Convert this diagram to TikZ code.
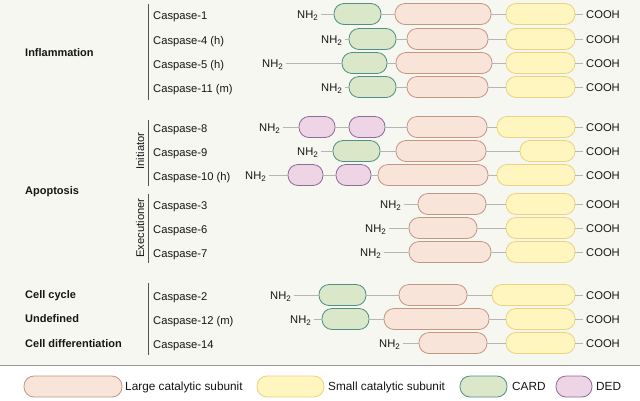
\documentclass[tikz,border=0pt]{standalone}
\usepackage{fontspec}
\setmainfont{Liberation Sans}
\definecolor{bgC}{HTML}{F7F7F2}
\definecolor{cardF}{HTML}{DBE7C9}
\definecolor{cardD}{HTML}{4F8F86}
\definecolor{dedF}{HTML}{EED4E4}
\definecolor{dedD}{HTML}{8C6C98}
\definecolor{largeF}{HTML}{F9E4DA}
\definecolor{largeD}{HTML}{C49684}
\definecolor{smallF}{HTML}{FFF5BF}
\definecolor{smallD}{HTML}{EAD37E}
\definecolor{lineC}{HTML}{B5B5B5}
\definecolor{barC}{HTML}{555555}
\definecolor{sepC}{HTML}{9A9A9A}
\definecolor{txtC}{HTML}{161616}
\newcommand\dom[5]{\node[#1, minimum width={#4-#3}] (#2) at ({(#3+#4)/2},#5) {};}
\newcommand\nhnode[3]{\node[nh] (#1) at ({#2+2.5},#3) {NH\raisebox{-0.35ex}{\fontsize{8}{9}\selectfont 2}};}
\newcommand\conode[2]{\node[co] (#1) at (583,#2) {COOH};}
\newcommand\caslbl[3]{\node[lbl] (#1) at (153,{#2+5.5}) {#3};}
\begin{document}
\begin{tikzpicture}[x=1pt,y=-1pt,
  txt/.style={text=txtC, font=\fontsize{11.2}{13}\selectfont},
  dombase/.style={rectangle, rounded corners=10pt, minimum height=21pt, inner sep=0pt, line width=0.8pt},
  card/.style={dombase, draw=cardD, fill=cardF},
  ded/.style={dombase, draw=dedD, fill=dedF},
  large/.style={dombase, draw=largeD, fill=largeF},
  small/.style={dombase, draw=smallD, fill=smallF},
  lbl/.style={txt, anchor=base west, inner sep=0pt},
  leg/.style={lbl, font=\fontsize{11.8}{13}\selectfont},
  cat/.style={lbl, font=\fontsize{11}{13}\selectfont\bfseries},
  nh/.style={txt, anchor=east, inner sep=2.5pt, text height=9.5pt, text depth=0.5pt},
  co/.style={txt, anchor=west, inner sep=3pt, text height=9.5pt, text depth=0.5pt},
  backbone/.style={draw=lineC, line width=0.8pt},
  bar/.style={draw=barC, line width=1pt}]
\useasboundingbox (0,0) rectangle (640,400);
\fill[bgC] (0,0) rectangle (640,366);
\fill[white] (0,366) rectangle (640,400);
\draw[sepC, line width=1pt] (0,365.5) -- (640,365.5);

% category labels
\node[cat] (inflam) at (25,56) {Inflammation};
\node[cat] (apop) at (25,194) {Apoptosis};
\node[cat] (cellcyc) at (25,298.5) {Cell cycle};
\node[cat] (undef) at (25,322.5) {Undefined};
\node[cat] (celldiff) at (25,347) {Cell differentiation};

% bars
\draw[bar] (148,4) -- (148,100);
\draw[bar] (148,120) -- (148,186);
\draw[bar] (148,194) -- (148,263);
\draw[bar] (148,283) -- (148,355);
\node[txt, rotate=90, inner sep=0pt] (init) at (140,151) {Initiator};
\node[txt, rotate=90, inner sep=0pt] (exec) at (140,228) {Executioner};

% caspase labels
\caslbl{l1}{14}{Caspase-1}
\caslbl{l4}{39}{Caspase-4 (h)}
\caslbl{l5}{63}{Caspase-5 (h)}
\caslbl{l11}{87}{Caspase-11 (m)}
\caslbl{l8}{127}{Caspase-8}
\caslbl{l9}{151}{Caspase-9}
\caslbl{l10}{175}{Caspase-10 (h)}
\caslbl{l3}{204}{Caspase-3}
\caslbl{l6}{228}{Caspase-6}
\caslbl{l7}{252}{Caspase-7}
\caslbl{l2}{295}{Caspase-2}
\caslbl{l12}{319}{Caspase-12 (m)}
\caslbl{l14}{343}{Caspase-14}

% Caspase-1
\nhnode{c1n}{318}{14}
\dom{card}{c1a}{334}{381}{14}
\dom{large}{c1l}{395}{491}{14}
\dom{small}{c1s}{506}{575}{14}
\conode{c1o}{14}
% Caspase-4
\nhnode{c4n}{342}{39}
\dom{card}{c4a}{349}{396}{39}
\dom{large}{c4l}{407}{488}{39}
\dom{small}{c4s}{506}{575}{39}
\conode{c4o}{39}
% Caspase-5
\nhnode{c5n}{283}{63}
\dom{card}{c5a}{342}{387}{63}
\dom{large}{c5l}{396}{492}{63}
\dom{small}{c5s}{506}{575}{63}
\conode{c5o}{63}
% Caspase-11
\nhnode{c11n}{342}{87}
\dom{card}{c11a}{349}{396}{87}
\dom{large}{c11l}{407}{488}{87}
\dom{small}{c11s}{506}{575}{87}
\conode{c11o}{87}
% Caspase-8
\nhnode{c8n}{280}{127}
\dom{ded}{c8d}{299}{335}{127}
\dom{ded}{c8e}{349}{385}{127}
\dom{large}{c8l}{407}{487}{127}
\dom{small}{c8s}{497}{575}{127}
\conode{c8o}{127}
% Caspase-9
\nhnode{c9n}{318}{151}
\dom{card}{c9a}{333}{380}{151}
\dom{large}{c9l}{396}{486}{151}
\dom{small}{c9s}{520}{575}{151}
\conode{c9o}{151}
% Caspase-10
\nhnode{c10n}{266}{175}
\dom{ded}{c10d}{288}{323}{175}
\dom{ded}{c10e}{336}{371}{175}
\dom{large}{c10l}{378}{488}{175}
\dom{small}{c10s}{497}{575}{175}
\conode{c10o}{175}
% Caspase-3
\nhnode{c3n}{401}{204}
\dom{large}{c3l}{418}{486}{204}
\dom{small}{c3s}{506}{575}{204}
\conode{c3o}{204}
% Caspase-6
\nhnode{c6n}{386}{228}
\dom{large}{c6l}{409}{477}{228}
\dom{small}{c6s}{506}{575}{228}
\conode{c6o}{228}
% Caspase-7
\nhnode{c7n}{381}{252}
\dom{large}{c7l}{409}{491}{252}
\dom{small}{c7s}{506}{575}{252}
\conode{c7o}{252}
% Caspase-2
\nhnode{c2n}{291}{295}
\dom{card}{c2a}{319}{366}{295}
\dom{large}{c2l}{399}{467}{295}
\dom{small}{c2s}{492}{575}{295}
\conode{c2o}{295}
% Caspase-12
\nhnode{c12n}{311}{319}
\dom{card}{c12a}{322}{369}{319}
\dom{large}{c12l}{384}{489}{319}
\dom{small}{c12s}{506}{575}{319}
\conode{c12o}{319}
% Caspase-14
\nhnode{c14n}{400}{343}
\dom{large}{c14l}{419}{487}{343}
\dom{small}{c14s}{506}{575}{343}
\conode{c14o}{343}

% backbones
\draw[backbone] (c1n) -- (c1a) -- (c1l) -- (c1s) -- (c1o);
\draw[backbone] (c4n) -- (c4a) -- (c4l) -- (c4s) -- (c4o);
\draw[backbone] (c5n) -- (c5a) -- (c5l) -- (c5s) -- (c5o);
\draw[backbone] (c11n) -- (c11a) -- (c11l) -- (c11s) -- (c11o);
\draw[backbone] (c8n) -- (c8d) -- (c8e) -- (c8l) -- (c8s) -- (c8o);
\draw[backbone] (c9n) -- (c9a) -- (c9l) -- (c9s) -- (c9o);
\draw[backbone] (c10n) -- (c10d) -- (c10e) -- (c10l) -- (c10s) -- (c10o);
\draw[backbone] (c3n) -- (c3l) -- (c3s) -- (c3o);
\draw[backbone] (c6n) -- (c6l) -- (c6s) -- (c6o);
\draw[backbone] (c7n) -- (c7l) -- (c7s) -- (c7o);
\draw[backbone] (c2n) -- (c2a) -- (c2l) -- (c2s) -- (c2o);
\draw[backbone] (c12n) -- (c12a) -- (c12l) -- (c12s) -- (c12o);
\draw[backbone] (c14n) -- (c14l) -- (c14s) -- (c14o);

% legend
\dom{large}{kl}{24}{122}{386.5}
\node[leg] (klt) at (125,390) {Large catalytic subunit};
\dom{small}{ks}{257}{324}{386.5}
\node[leg] (kst) at (328,390) {Small catalytic subunit};
\dom{card}{kc}{460}{507}{386.5}
\node[leg] (kct) at (512,390) {CARD};
\dom{ded}{kd}{556}{592}{386.5}
\node[leg] (kdt) at (596,390) {DED};
\end{tikzpicture}
\end{document}
